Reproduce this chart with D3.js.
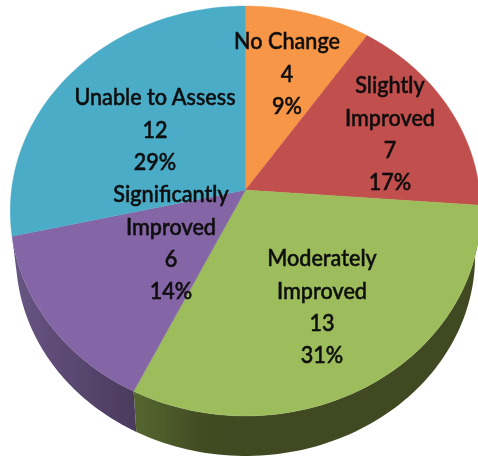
<!DOCTYPE html>
<html><head><meta charset="utf-8">
<script src="https://cdn.jsdelivr.net/npm/d3@7"></script>
<style>html,body{margin:0;padding:0;background:#fff}svg{display:block}</style>
</head><body><svg id="c" width="478" height="456"></svg>
<script>
const categories=["No Change","Slightly Improved","Moderately Improved","Significantly Improved","Unable to Assess"];
const values=[4,7,13,6,12];
const percents=["9%","17%","31%","14%","29%"];
const labelLines=[["No Change"],["Slightly","Improved"],["Moderately","Improved"],["Significantly","Improved"],["Unable to Assess"]];
const colors=["#F79646","#C0504D","#9DBD5B","#8465A5","#4BACC8"];

// label placement: centre x and first-line centre y
const labelX=[287,390,322,171,155];
const labelY=[41,85,258,194,97];
const lineStep=32.4;

const svg=d3.select("#c");
const defs=svg.append("defs");
const blur=defs.append("filter").attr("id","soft").attr("x","-5%").attr("y","-5%").attr("width","110%").attr("height","110%");
blur.append("feGaussianBlur").attr("stdDeviation",0.45);

function grad(id,x1,x2,stops){
  const g=defs.append("linearGradient").attr("id",id).attr("gradientUnits","userSpaceOnUse")
    .attr("x1",x1).attr("x2",x2).attr("y1",0).attr("y2",0);
  stops.forEach(s=>g.append("stop").attr("offset",s[0]).attr("stop-color",s[1]));
}
grad("wallGreen",135,478,[[0,"#56662F"],[0.2,"#414B24"],[1,"#3F4823"]]);
grad("wallPurple",14,137,[[0,"#685583"],[1,"#4A3A5C"]]);

// perspective projection of the tilted pie
const cx=245.5,cy=190,Rx=234,Ry=202.8,k=0.1024;
const project=a=>{const w=1+k*Math.cos(a);return [cx+Rx*Math.sin(a)/w,cy-Ry*Math.cos(a)/w];};
const vanishY=2083,shrink=0.024;
const drop=p=>[p[0]+(cx-p[0])*shrink,p[1]+(vanishY-p[1])*shrink];
const rim=(a0,a1)=>d3.range(0,81).map(i=>project(a0+(a1-a0)*i/80));

const arcs=d3.pie().sort(null).value(d=>d)(values);
const line=d3.line();
const root=svg.append("g").attr("filter","url(#soft)");

// side walls (front-facing slices only)
[[2,"url(#wallGreen)"],[3,"url(#wallPurple)"]].forEach(([i,fill])=>{
  const r=rim(arcs[i].startAngle,arcs[i].endAngle);
  root.append("path").attr("d",line(r.concat(r.slice().reverse().map(drop)))+"Z").attr("fill",fill);
});

// top face
root.selectAll("path.slice").data(arcs).join("path").attr("class","slice")
  .attr("d",d=>line([[cx,cy]].concat(rim(d.startAngle,d.endAngle)))+"Z")
  .attr("fill",(d,i)=>colors[i]).attr("stroke",(d,i)=>colors[i]).attr("stroke-width",0.4);

// labels
const labels=svg.append("g").attr("filter","url(#soft)")
  .attr("font-family","Lato, 'Open Sans', sans-serif").attr("font-size",23.5).attr("font-weight",500)
  .attr("stroke","#0b0b0b").attr("stroke-width",0.5)
  .attr("fill","#0b0b0b").attr("text-anchor","middle");
categories.forEach((c,i)=>{
  const rows=labelLines[i].concat([String(values[i]),percents[i]]);
  rows.forEach((t,j)=>labels.append("text")
    .attr("transform",`translate(${labelX[i]},${labelY[i]+j*lineStep}) scale(0.92,1)`)
    .attr("dy","0.35em").text(t));
});
</script></body></html>
